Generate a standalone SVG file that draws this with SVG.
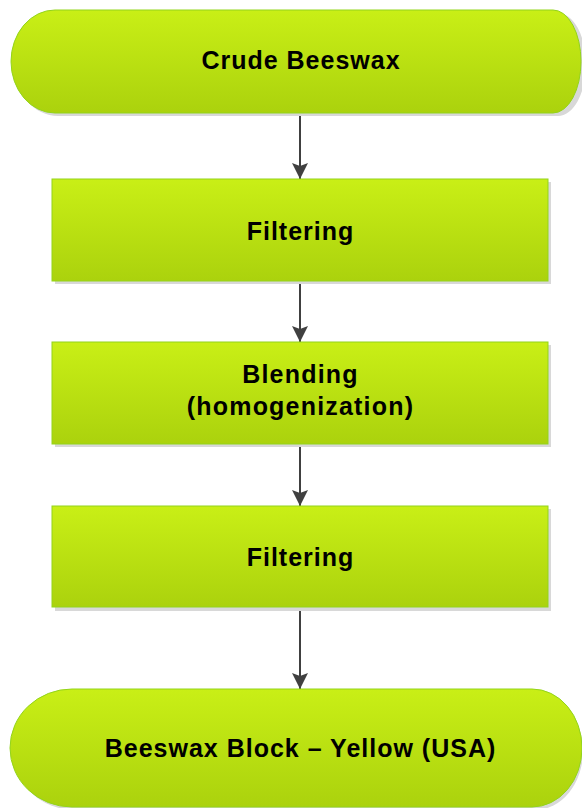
<svg xmlns="http://www.w3.org/2000/svg" width="582" height="808" viewBox="0 0 582 808">
  <style>
    .shape { fill: url(#g); stroke: #93d41a; stroke-width: 1; }
    .shadow { fill: #d8d8d8; }
    .label { font-family: "Liberation Sans", Arial, sans-serif; font-weight: bold; font-size: 25px; fill: #000; text-anchor: middle; letter-spacing: 1px; }
    .conn { stroke: #404040; stroke-width: 2; fill: none; marker-end: url(#arrow); }
  </style>
  <defs>
    <linearGradient id="g" x1="0" y1="0" x2="0" y2="1">
      <stop offset="0" stop-color="#c9ef16"/>
      <stop offset="1" stop-color="#abd20d"/>
    </linearGradient>
    <marker id="arrow" markerWidth="16" markerHeight="16" refX="16" refY="8" orient="auto" markerUnits="userSpaceOnUse" viewBox="0 0 16 16">
      <path d="M0,0 L16,8 L0,16 L3,8 Z" fill="#404040"/>
    </marker>
  </defs>

  <rect width="582" height="808" fill="#ffffff"/>

  <g id="connectors">
    <line class="conn" x1="300" y1="113" x2="300" y2="179"/>
    <line class="conn" x1="300" y1="281" x2="300" y2="342"/>
    <line class="conn" x1="300" y1="444" x2="300" y2="506"/>
    <line class="conn" x1="300" y1="607" x2="300" y2="689"/>
  </g>

  <g id="start">
    <path class="shadow" d="M58,13 H558 A28,51.5 0 0 1 558,116 H58 A44,51.5 0 0 1 58,13 Z"/>
    <path class="shape" d="M55,10 H553 A28,51.5 0 0 1 553,113 H55 A44,51.5 0 0 1 55,10 Z"/>
    <text class="label" x="301" y="69">Crude Beeswax</text>
  </g>

  <g id="filtering1">
    <rect class="shadow" x="55" y="182" width="496" height="102"/>
    <rect class="shape" x="52" y="179" width="496" height="102"/>
    <text class="label" x="300.5" y="240">Filtering</text>
  </g>

  <g id="blending">
    <rect class="shadow" x="55" y="345" width="496" height="102"/>
    <rect class="shape" x="52" y="342" width="496" height="102"/>
    <text class="label" x="300.5" y="383" style="letter-spacing:1.2px">Blending</text>
    <text class="label" x="300.5" y="415" style="letter-spacing:1.2px">(homogenization)</text>
  </g>

  <g id="filtering2">
    <rect class="shadow" x="55" y="509" width="496" height="102"/>
    <rect class="shape" x="52" y="506" width="496" height="101"/>
    <text class="label" x="300.5" y="566">Filtering</text>
  </g>

  <g id="end">
    <path class="shadow" d="M75,692 H535 A48,59 0 0 1 535,810 H75 A62,59 0 0 1 75,692 Z"/>
    <path class="shape" d="M72,689 H532 A50,59 0 0 1 532,807 H72 A62,59 0 0 1 72,689 Z"/>
    <text class="label" x="300.5" y="757">Beeswax Block – Yellow (USA)</text>
  </g>
</svg>
